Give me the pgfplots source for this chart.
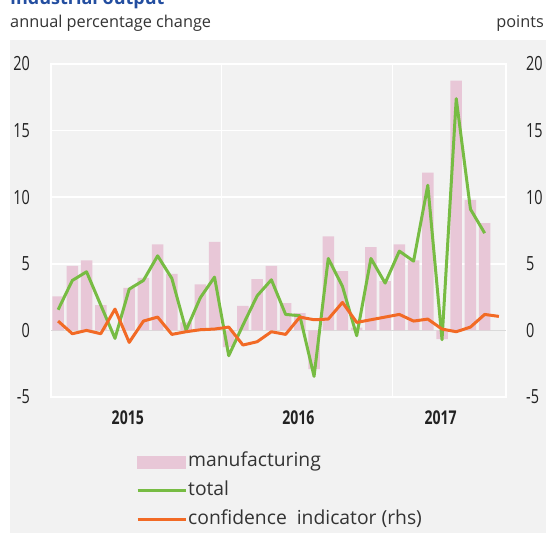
\documentclass[border=0pt]{standalone}
\usepackage{fontspec}
\setmainfont{Open Sans}
\newfontfamily\condfont[FakeStretch=0.74]{Open Sans}
\usepackage{pgfplots}
\pgfplotsset{compat=1.18}
\definecolor{bg}{HTML}{F2F2F2}
\definecolor{manu}{HTML}{E8C7D7}
\definecolor{tot}{HTML}{77BC43}
\definecolor{conf}{HTML}{F26A25}
\definecolor{txt}{HTML}{333333}
\definecolor{tick}{HTML}{222222}
\definecolor{ttl}{HTML}{234EA0}
\definecolor{zline}{HTML}{DADADA}

\pgfplotstableread{
m v
1 2.55
2 4.85
3 5.25
4 1.9
5 0
6 3.2
7 3.95
8 6.45
9 4.25
10 0.6
11 3.45
12 6.65
13 -1.25
14 1.85
15 3.85
16 4.85
17 2.05
18 1.3
19 -2.9
20 7.05
21 4.45
22 0.2
23 6.25
24 3.7
25 6.45
26 5.25
27 11.85
28 -0.65
29 18.75
30 9.8
31 8.05
}\manufacturing

\pgfplotstableread{
m v
1 1.55
2 3.75
3 4.4
4 1.9
5 -0.6
6 3.1
7 3.75
8 5.6
9 3.9
10 0.0
11 2.45
12 4.0
13 -1.9
14 0.4
15 2.6
16 3.8
17 1.2
18 1.1
19 -3.45
20 5.4
21 3.3
22 -0.4
23 5.4
24 3.55
25 5.95
26 5.2
27 10.9
28 -0.7
29 17.4
30 9.1
31 7.3
}\total

\pgfplotstableread{
m v
1 0.7
2 -0.25
3 0.0
4 -0.25
5 1.6
6 -0.9
7 0.7
8 1.0
9 -0.3
10 -0.1
11 0.05
12 0.1
13 0.25
14 -1.1
15 -0.85
16 -0.1
17 -0.3
18 1.0
19 0.8
20 0.85
21 2.1
22 0.6
23 0.8
24 1.0
25 1.2
26 0.7
27 0.85
28 0.1
29 -0.1
30 0.25
31 1.2
32 1.05
}\confidence

\begin{document}
\begin{tikzpicture}
\fill[bg] (10pt,0pt) rectangle (546pt,493pt);
\node[anchor=base west, inner sep=0, font=\fontsize{18}{20}\selectfont\bfseries, text=ttl] at (10pt,528pt) {Industrial output};
\node[anchor=base west, inner sep=0, font=\fontsize{16.3}{19}\selectfont, text=txt] at (10pt,505pt) {annual percentage change};
\node[anchor=base east, inner sep=0, font=\fontsize{16.3}{19}\selectfont, text=txt] at (544pt,505pt) {points};

\begin{axis}[
  at={(51pt,136pt)}, anchor=south west, scale only axis,
  width=455pt, height=333pt,
  xmin=0.5, xmax=32.5, ymin=-5, ymax=20,
  axis line style={white, line width=1.5pt},
  axis background/.style={fill=bg},
  major tick length=0pt,
  ytick={-5,0,5,10,15,20},
  yticklabels={-5,0,5,10,15,20},
  ymajorgrids, xmajorgrids,
  grid style={white, line width=1.5pt},
  xtick={12.5,24.5}, xticklabels={},
  extra x ticks={5.9,17.9,27.9},
  extra x tick labels={2015,2016,2017},
  extra x tick style={grid=none, major tick length=0pt},
  yticklabel style={font=\condfont\fontsize{19.5}{21}\selectfont, text=tick, anchor=east, inner sep=0pt, xshift=-21pt},
  xticklabel style={font=\condfont\bfseries\fontsize{19}{21}\selectfont, text=tick, anchor=base, inner sep=0pt, yshift=-28pt},
  clip=false,
]
\draw[zline, line width=1.2pt] (axis cs:0.5,0) -- (axis cs:32.5,0);
\addplot[ybar, bar width=11.5pt, fill=manu, draw=none] table[x=m, y=v] {\manufacturing};
\addplot[tot, line width=3pt, line join=round] table[x=m, y=v] {\total};
\end{axis}

\begin{axis}[
  at={(51pt,136pt)}, anchor=south west, scale only axis,
  width=455pt, height=333pt,
  xmin=0.5, xmax=32.5, ymin=-5, ymax=20,
  axis x line=none,
  axis y line*=right,
  axis line style={draw=none},
  major tick length=0pt,
  ytick={-5,0,5,10,15,20},
  yticklabels={-5,0,5,10,15,20},
  yticklabel style={font=\condfont\fontsize{19.5}{21}\selectfont, text=tick, anchor=west, inner sep=0pt, xshift=20pt},
  clip=false,
  legend style={at={(0.1868,-0.163)}, anchor=north west, draw=none, fill=none,
    inner sep=0pt, font=\fontsize{19.3}{22}\selectfont, text=txt,
    nodes={text height=14pt, text depth=4.5pt, inner sep=1pt},
    row sep=8.5pt,
    /tikz/every even column/.append style={column sep=4pt}},
  legend cell align=left,
]
\addlegendimage{legend image code/.code={\fill[manu] (0pt,-6pt) rectangle (48pt,6pt);}}
\addlegendentry{manufacturing}
\addlegendimage{legend image code/.code={\draw[tot, line width=3pt] (0pt,0pt) -- (48pt,0pt);}}
\addlegendentry{total}
\addplot[conf, line width=3pt, line join=round,
  legend image code/.code={\draw[conf, line width=3pt] (0pt,0pt) -- (48pt,0pt);}]
  table[x=m, y=v] {\confidence};
\addlegendentry{confidence\ \ indicator (rhs)}
\end{axis}
\pgfresetboundingbox
\path[use as bounding box] (0pt,0pt) rectangle (546pt,533pt);
\end{tikzpicture}
\end{document}
